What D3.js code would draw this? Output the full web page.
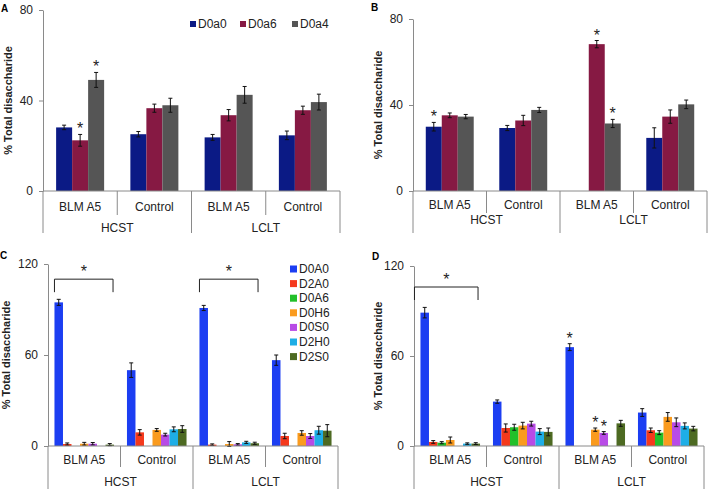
<!DOCTYPE html>
<html>
<head>
<meta charset="utf-8">
<script src="https://cdn.jsdelivr.net/npm/d3@7"></script>
<style>
  body { margin: 0; background: #fff; }
  svg { display: block; font-family: "Liberation Sans", Arial, sans-serif; }
  .tick text { font-size: 12px; fill: #222; }
</style>
</head>
<body>
<div id="chart"></div>
<script>
const W = 709, H = 489;

// categories, in drawing order
const groups = ["HCST", "LCLT"];
const subcats = ["BLM A5", "Control"];
const categories = ["HCST BLM A5", "HCST Control", "LCLT BLM A5", "LCLT Control"];

const seriesAB = ["D0a0", "D0a6", "D0a4"];
const coloursAB = ["#0b1a85", "#861943", "#555555"];
const seriesCD = ["D0A0", "D2A0", "D0A6", "D0H6", "D0S0", "D2H0", "D2S0"];
const coloursCD = ["#1c3ef2", "#f5391c", "#22c02a", "#fa9b1e", "#b84be6", "#1eaee6", "#4d6a22"];

// one row per category, one value per series (0 = no bar)
const valuesA = [
  [28.1, 22.4, 49.1],
  [25.1, 36.6, 37.9],
  [23.7, 33.5, 42.5],
  [24.6, 35.7, 39.3]
];
const errorsA = [
  [1.0, 2.6, 3.3],
  [1.2, 1.8, 3.1],
  [1.3, 2.5, 3.7],
  [1.9, 1.8, 3.5]
];
const valuesB = [
  [29.9, 35.2, 34.6],
  [29.3, 32.8, 37.7],
  [0, 68.3, 31.4],
  [24.7, 34.6, 40.3]
];
const errorsB = [
  [2.0, 1.1, 1.0],
  [1.2, 2.4, 1.2],
  [0, 1.7, 1.9],
  [4.7, 3.1, 2.0]
];
const valuesC = [
  [94.7, 1.3, 0, 1.5, 1.5, 0, 0.9],
  [50.0, 9.0, 0, 10.6, 7.5, 11.0, 11.2],
  [91.0, 0.9, 0, 1.3, 1.1, 2.4, 1.8],
  [56.6, 6.6, 0, 8.6, 6.6, 10.4, 10.1]
];
const errorsC = [
  [2.0, 0.7, 0, 0.9, 0.8, 0, 0.7],
  [4.8, 1.8, 0, 0.9, 0.9, 1.6, 2.2],
  [1.7, 0.5, 0, 1.6, 0.5, 0.7, 0.7],
  [3.4, 1.8, 0, 1.5, 1.6, 2.6, 4.0]
];
const valuesD = [
  [88.9, 2.7, 2.2, 4.0, 0, 1.6, 1.6],
  [29.6, 12.0, 12.5, 13.6, 14.9, 9.6, 9.4],
  [65.9, 0, 0, 10.9, 8.7, 0, 15.1],
  [22.3, 10.5, 8.9, 19.4, 15.8, 13.4, 11.6]
];
const errorsD = [
  [3.5, 0.9, 0.7, 2.0, 0, 0.5, 0.6],
  [1.1, 2.7, 2.0, 2.2, 1.6, 2.0, 2.6],
  [2.3, 0, 0, 1.1, 0.9, 0, 2.0],
  [2.6, 1.5, 1.3, 2.9, 2.9, 2.0, 1.5]
];

// significance marks: [category, series]
const starsA = [[0, 1], [0, 2]];
const starsB = [[0, 0], [2, 1], [2, 2]];
const starsD = [[2, 0], [2, 3], [2, 4]];
// brackets over a whole category: [category, height in axis units]
const bracketsC = [[0, 110], [2, 110]];
const bracketsD = [[0, 106]];

const yTicksAB = [0, 40, 80];
const yTicksCD = [0, 60, 120];

const svg = d3.select("#chart").append("svg").attr("width", W).attr("height", H);

function panel(o) {
  const g = svg.append("g");
  const y = d3.scaleLinear().domain([0, o.max]).range([o.y0, o.yTop]);
  const x0 = d3.scaleBand().domain(d3.range(categories.length)).range([o.left, o.right]);
  const x1 = d3.scaleBand().domain(o.series).range([0, x0.bandwidth()])
    .paddingInner(0).paddingOuter(o.pad);

  // y axis
  const ax = g.append("g").attr("transform", `translate(${o.left},0)`)
    .call(d3.axisLeft(y).tickValues(o.ticks).tickSize(4).tickPadding(6).tickSizeOuter(0));
  ax.select(".domain").attr("stroke", "#8a8a8a");
  ax.selectAll(".tick line").attr("stroke", "#8a8a8a");
  ax.selectAll(".tick text").attr("font-family", "Liberation Sans, Arial, sans-serif");

  g.append("text")
    .attr("transform", `translate(${o.ylabX},${(o.y0 + o.yTop) / 2}) rotate(-90)`)
    .attr("text-anchor", "middle").attr("font-size", 11).attr("font-weight", "bold")
    .attr("fill", "#222").text("% Total disaccharide");

  g.append("text").attr("x", o.letterX).attr("y", o.letterY)
    .attr("font-size", 10).attr("font-weight", "bold").text(o.letter);

  // bars
  o.values.forEach((row, ci) => {
    row.forEach((v, si) => {
      if (!v) return;
      const bx = x0(ci) + x1(o.series[si]);
      g.append("rect").attr("x", bx).attr("y", y(v))
        .attr("width", x1.bandwidth()).attr("height", o.y0 - y(v))
        .attr("fill", o.colours[si]);
      const e = o.errors[ci][si];
      if (e) {
        const cx = bx + x1.bandwidth() / 2, cw = 2;
        const eb = g.append("g").attr("stroke", "#111").attr("stroke-width", 1);
        eb.append("line").attr("x1", cx).attr("x2", cx).attr("y1", y(v - e)).attr("y2", y(v + e));
        eb.append("line").attr("x1", cx - cw).attr("x2", cx + cw).attr("y1", y(v + e)).attr("y2", y(v + e));
        eb.append("line").attr("x1", cx - cw).attr("x2", cx + cw).attr("y1", y(v - e)).attr("y2", y(v - e));
      }
    });
  });

  // stars above single bars
  (o.stars || []).forEach(([ci, si]) => {
    const v = o.values[ci][si] + o.errors[ci][si];
    g.append("text").attr("x", x0(ci) + x1(o.series[si]) + x1.bandwidth() / 2)
      .attr("y", y(v) - 9 + 9).attr("text-anchor", "middle")
      .attr("font-size", 16).attr("fill", "#222").text("*");
  });

  // brackets
  (o.brackets || []).forEach(([ci, h]) => {
    const l = x0(ci) + x1(o.series[0]) + o.brL;
    const r = x0(ci) + x1(o.series[o.series.length - 1]) + x1.bandwidth() + o.brR;
    const top = y(h);
    g.append("path").attr("d", `M${l},${top + 13}V${top}H${r}V${top + 13}`)
      .attr("fill", "none").attr("stroke", "#222").attr("stroke-width", 1);
    g.append("text").attr("x", (l + r) / 2).attr("y", top - 2)
      .attr("text-anchor", "middle").attr("font-size", 16).attr("fill", "#222").text("*");
  });

  // category axis
  const ln = g.append("g").attr("stroke", "#8a8a8a").attr("stroke-width", 1);
  ln.append("line").attr("x1", o.left).attr("x2", o.right).attr("y1", o.y0).attr("y2", o.y0);
  d3.range(categories.length + 1).forEach(i => {
    const xx = i < categories.length ? x0(i) : o.right;
    const long = i % 2 === 0;
    ln.append("line").attr("x1", xx).attr("x2", xx).attr("y1", o.y0)
      .attr("y2", long ? o.y0 + o.groupLen : o.y0 + o.subLen);
  });
  categories.forEach((c, i) => {
    g.append("text").attr("x", x0(i) + x0.bandwidth() / 2).attr("y", o.y0 + o.subDy)
      .attr("text-anchor", "middle").attr("dominant-baseline", "central")
      .attr("font-size", 12).attr("fill", "#222").text(subcats[i % 2]);
  });
  groups.forEach((gr, i) => {
    g.append("text").attr("x", (x0(i * 2) + x0(i * 2 + 1) + x0.bandwidth()) / 2)
      .attr("y", o.y0 + o.groupDy)
      .attr("text-anchor", "middle").attr("dominant-baseline", "central")
      .attr("font-size", 12).attr("fill", "#222").text(gr);
  });

  // legend
  if (o.legend === "row") {
    const lx = [190, 240, 292];
    o.series.forEach((s, i) => {
      g.append("rect").attr("x", lx[i]).attr("y", 21).attr("width", 6).attr("height", 6).attr("fill", o.colours[i]);
      g.append("text").attr("x", lx[i] + 8).attr("y", 24).attr("dominant-baseline", "central")
        .attr("font-size", 12).attr("fill", "#222").text(s);
    });
  } else if (o.legend === "column") {
    o.series.forEach((s, i) => {
      const yy = 269 + i * 14.6;
      g.append("rect").attr("x", 290).attr("y", yy - 3.5).attr("width", 7).attr("height", 7).attr("fill", o.colours[i]);
      g.append("text").attr("x", 299).attr("y", yy).attr("dominant-baseline", "central")
        .attr("font-size", 12).attr("fill", "#222").text(s);
    });
  }
}

panel({ letter: "A", letterX: 1, letterY: 12, left: 43, right: 340, yTop: 10, y0: 191, max: 80,
  ticks: yTicksAB, series: seriesAB, colours: coloursAB, values: valuesA, errors: errorsA,
  stars: starsA, pad: 0.82, ylabX: 12, subDy: 16, groupDy: 37, subLen: 24, groupLen: 42, legend: "row" });
panel({ letter: "B", letterX: 371, letterY: 11, left: 413, right: 707, yTop: 19, y0: 191, max: 80,
  ticks: yTicksAB, series: seriesAB, colours: coloursAB, values: valuesB, errors: errorsB,
  stars: starsB, pad: 0.8, ylabX: 382, subDy: 14, groupDy: 29, subLen: 22, groupLen: 42 });
panel({ letter: "C", letterX: 0, letterY: 259, left: 48, right: 338, yTop: 264, y0: 446, max: 120,
  ticks: yTicksCD, series: seriesCD, colours: coloursCD, values: valuesC, errors: errorsC,
  brackets: bracketsC, brL: 0, brR: -1, pad: 0.76, ylabX: 10, subDy: 14, groupDy: 36, subLen: 21, groupLen: 50,
  legend: "column" });
panel({ letter: "D", letterX: 372, letterY: 260, left: 414, right: 704, yTop: 266, y0: 446, max: 120,
  ticks: yTicksCD, series: seriesCD, colours: coloursCD, values: valuesD, errors: errorsD,
  stars: starsD, brackets: bracketsD, brL: -6, brR: -2, pad: 0.76, ylabX: 382, subDy: 14, groupDy: 36,
  subLen: 21, groupLen: 50 });
</script>
</body>
</html>
